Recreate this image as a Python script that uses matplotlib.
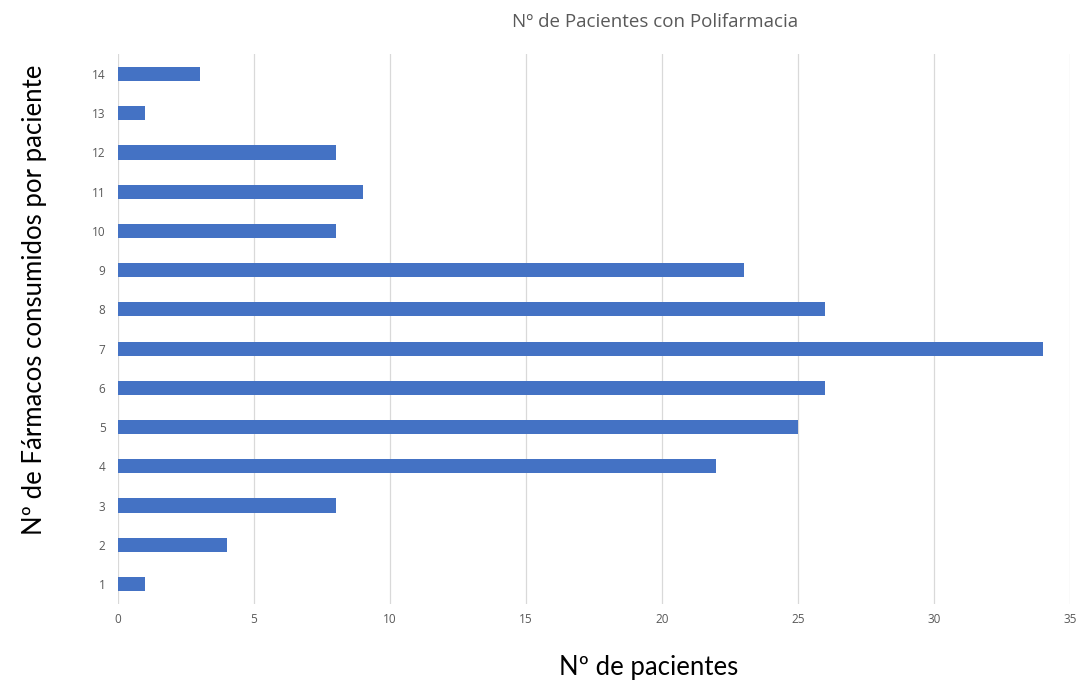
import matplotlib.pyplot as plt

# farmacos por paciente vs numero de pacientes
num_farmacos = list(range(1, 15))
num_pacientes = [1, 4, 8, 22, 25, 26, 34, 26, 23, 8, 9, 8, 1, 3]
x_ticks = [0, 5, 10, 15, 20, 25, 30, 35]

plt.rcParams['font.family'] = ['Open Sans', 'DejaVu Sans']

fig = plt.figure(figsize=(10.79, 6.84), dpi=100)
ax = fig.add_axes([0.1094, 0.1175, 0.8823, 0.803])

ax.barh(num_farmacos, num_pacientes, height=0.36, color='#4472C4', zorder=3)

ax.set_xlim(0, 35)
ax.set_ylim(0.5, 14.5)
ax.set_xticks(x_ticks)
ax.set_yticks(num_farmacos)
ax.grid(axis='x', color='#D9D9D9', linewidth=0.9, zorder=0)
for s in ax.spines.values():
    s.set_visible(False)
ax.tick_params(axis='both', length=0, labelsize=8.5, labelcolor='#595959')
ax.tick_params(axis='x', pad=7)
ax.tick_params(axis='y', pad=9)

fig.text(655 / 1079, 1 - 22 / 684, 'Nº de Pacientes con Polifarmacia',
         ha='center', va='center', fontsize=13.5, color='#595959')
fig.text(649 / 1079, 1 - 668 / 684, 'Nº de pacientes',
         ha='center', va='center', fontsize=18.5, color='black', family=['Lato', 'DejaVu Sans'])
fig.text(35 / 1079, 1 - 300 / 684, 'Nº de Fármacos consumidos por paciente',
         ha='center', va='center', rotation=90, fontsize=18.5, color='black',
         family=['Lato', 'DejaVu Sans'])

fig.savefig('out.png', dpi=100)
